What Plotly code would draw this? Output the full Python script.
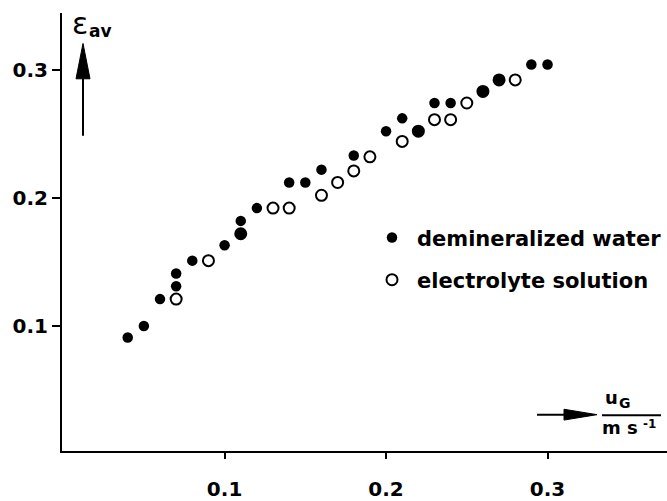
import plotly.graph_objects as go

# Gas holdup eps_av vs superficial gas velocity u_G
water_u = [0.04, 0.05, 0.06, 0.07, 0.07, 0.08, 0.10, 0.11, 0.11, 0.12, 0.14, 0.15,
           0.16, 0.18, 0.20, 0.21, 0.22, 0.23, 0.24, 0.26, 0.27, 0.29, 0.30]
water_eps = [0.091, 0.100, 0.121, 0.131, 0.141, 0.151, 0.163, 0.172, 0.182, 0.192, 0.212, 0.212,
             0.222, 0.233, 0.252, 0.262, 0.252, 0.274, 0.274, 0.283, 0.292, 0.304, 0.304]

electrolyte_u = [0.07, 0.09, 0.11, 0.13, 0.14, 0.16, 0.17, 0.18, 0.19, 0.21, 0.22,
                 0.23, 0.24, 0.25, 0.26, 0.27, 0.28]
electrolyte_eps = [0.121, 0.151, 0.172, 0.192, 0.192, 0.202, 0.212, 0.221, 0.232, 0.244, 0.252,
                   0.261, 0.261, 0.274, 0.283, 0.292, 0.292]

tick_vals = [0.1, 0.2, 0.3]
tick_text = ["0.1", "0.2", "0.3"]

W, H = 667, 501
ML, MR, MT, MB = 62, 0, 13, 42
PW, PH = W - ML - MR, H - MT - MB


def px(x):
    return (x - ML) / PW


def py(y):
    return (H - MB - y) / PH


FONT = "DejaVu Sans"

fig = go.Figure()

fig.add_trace(go.Scatter(
    x=electrolyte_u, y=electrolyte_eps, mode="markers",
    name="electrolyte solution", legendrank=2, legendgroup="b",
    marker=dict(symbol="circle", size=11, color="white",
                line=dict(color="black", width=2)),
))
fig.add_trace(go.Scatter(
    x=water_u, y=water_eps, mode="markers",
    name="demineralized water", legendrank=1, legendgroup="a",
    marker=dict(symbol="circle", size=10.5, color="black", line=dict(width=0)),
))

axis_common = dict(
    showgrid=False, zeroline=False, showline=True, linecolor="black", linewidth=2,
    ticks="outside", tickcolor="black", tickwidth=2,
    tickvals=tick_vals, ticktext=tick_text,
    tickfont=dict(family=FONT, size=20, color="black", weight="bold"),
)

fig.update_xaxes(range=[-0.0007, 0.374], ticklen=6, ticklabelstandoff=13, **axis_common)
fig.update_yaxes(range=[0.0025, 0.3442], ticklen=8, ticklabelstandoff=0, **axis_common)

shapes = [
    # vertical arrow beside the y-axis title
    dict(type="line", xref="paper", yref="paper",
         x0=px(83), x1=px(83), y0=py(138), y1=py(70),
         line=dict(color="black", width=2)),
    dict(type="path", xref="paper", yref="paper",
         path=f"M {px(83)} {py(44)} L {px(76)} {py(80)} L {px(90)} {py(80)} Z",
         fillcolor="black", line=dict(color="black", width=1)),
    # horizontal arrow before the x-axis title
    dict(type="line", xref="paper", yref="paper",
         x0=px(537), x1=px(575), y0=py(422), y1=py(422),
         line=dict(color="black", width=2)),
    dict(type="path", xref="paper", yref="paper",
         path=f"M {px(597)} {py(422)} L {px(564)} {py(416.5)} L {px(564)} {py(427.5)} Z",
         fillcolor="black", line=dict(color="black", width=1)),
    # fraction bar of the x-axis title
    dict(type="line", xref="paper", yref="paper",
         x0=px(602), x1=px(661), y0=py(422.5), y1=py(422.5),
         line=dict(color="black", width=2)),
]

annotations = [
    dict(text="ε", x=px(80), y=py(24), font=dict(family=FONT, size=30, color="black")),
    dict(text="<b>av</b>", x=px(100), y=py(31), font=dict(family=FONT, size=17, color="black")),
    dict(text="<b>u</b>", x=px(611), y=py(405), font=dict(family=FONT, size=18, color="black")),
    dict(text="<b>G</b>", x=px(625), y=py(410), font=dict(family=FONT, size=14, color="black")),
    dict(text="<b>m s</b>", x=px(620), y=py(435), font=dict(family=FONT, size=18, color="black")),
    dict(text="<b>-1</b>", x=px(649), y=py(431), font=dict(family=FONT, size=12, color="black")),
]
for a in annotations:
    a.update(xref="paper", yref="paper", showarrow=False, xanchor="center", yanchor="middle")

fig.update_layout(
    width=W, height=H,
    margin=dict(l=ML, r=MR, t=MT, b=MB),
    paper_bgcolor="white", plot_bgcolor="white",
    showlegend=True,
    legend=dict(
        x=px(367), y=py(221), xanchor="left", yanchor="top",
        font=dict(family=FONT, size=21, color="black", weight="bold"),
        bgcolor="rgba(0,0,0,0)", tracegroupgap=12, traceorder="grouped",
        itemwidth=40,
    ),
    shapes=shapes,
    annotations=annotations,
)

fig.write_html("out.html")
